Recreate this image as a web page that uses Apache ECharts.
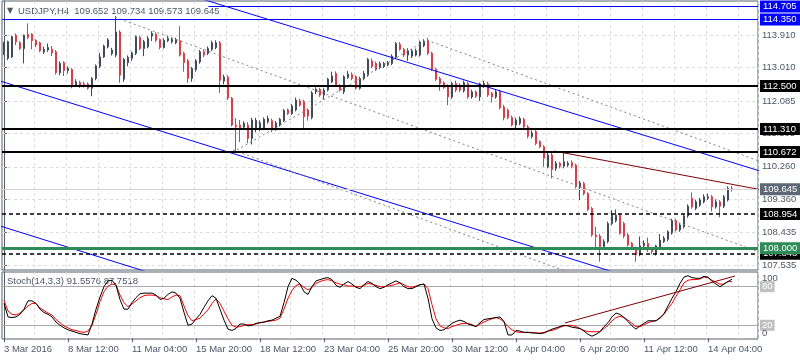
<!DOCTYPE html>
<html><head><meta charset="utf-8">
<script src="https://cdn.jsdelivr.net/npm/echarts@6/dist/echarts.min.js"></script>
<style>html,body{margin:0;padding:0;background:#fff}#c{width:800px;height:360px}</style>
</head><body><div id="c"></div>
<script>
// ---------- data ----------
const tickLabels = ['3 Mar 2016','8 Mar 12:00','11 Mar 04:00','15 Mar 20:00','18 Mar 12:00','23 Mar 04:00','25 Mar 20:00','30 Mar 12:00','4 Apr 04:00','6 Apr 20:00','11 Apr 12:00','14 Apr 04:00'];
const priceTicks = [113.910,113.010,112.085,111.185,110.260,109.360,108.435,107.535];

const open = [
113.45,113.27,113.31,113.91,113.70,113.54,113.94,113.94,113.77,113.70,
113.45,113.50,113.52,113.45,112.87,113.15,112.93,112.96,112.53,112.60,
112.56,112.56,112.44,112.71,113.05,113.31,113.59,113.40,113.36,114.00,
112.69,113.15,113.27,113.41,113.85,113.54,113.59,113.89,113.94,113.79,
113.57,113.76,113.73,113.70,113.76,113.41,113.20,112.71,112.96,113.17,
113.45,113.41,113.52,113.57,113.70,112.64,112.75,112.16,111.42,111.42,
111.36,111.42,111.05,111.30,111.30,111.33,111.51,111.54,111.30,111.42,
111.54,111.84,111.74,111.84,112.09,112.07,111.84,111.63,112.34,112.41,
112.25,112.39,112.62,112.85,112.50,112.34,112.74,112.82,112.76,112.44,
112.71,112.80,113.20,113.13,113.02,113.04,113.09,113.13,113.30,113.66,
113.52,113.36,113.33,113.36,113.36,113.62,113.77,113.41,112.96,112.71,
112.59,112.50,112.20,112.57,112.53,112.37,112.57,112.20,112.34,112.20,
112.50,112.56,112.30,112.20,112.34,111.92,111.83,111.63,111.42,111.47,
111.58,111.37,111.10,111.24,110.96,110.82,110.26,110.59,110.22,110.36,
110.28,110.31,110.38,110.31,109.70,109.80,109.52,109.11,108.37,108.34,
108.05,108.19,108.69,108.77,108.92,108.69,108.37,108.14,108.00,107.82,
108.07,108.14,108.00,107.86,108.00,108.19,108.25,108.43,108.77,108.51,
108.60,108.90,109.39,109.11,109.20,109.29,109.39,109.43,109.15,109.29,
109.17,109.34,109.652];
const high = [
113.73,113.76,113.90,113.96,113.75,113.93,114.24,113.97,113.80,113.73,
113.59,113.68,113.61,113.50,113.18,113.19,113.05,113.00,112.69,112.65,
112.62,112.60,112.75,113.10,113.42,113.65,113.83,113.56,114.44,114.05,
113.28,113.35,113.46,113.90,113.90,113.78,113.88,114.02,113.99,113.82,
113.82,113.90,113.85,113.84,114.16,113.45,113.25,113.03,113.25,113.50,
113.52,113.60,113.76,113.77,113.75,112.82,112.80,112.20,111.61,111.56,
111.52,111.50,111.62,111.62,111.55,111.63,111.68,111.60,111.53,111.62,
111.87,111.88,112.00,112.18,112.15,112.12,111.88,112.36,112.47,112.45,
112.44,112.73,112.90,112.91,112.55,112.80,112.92,112.88,112.80,112.76,
112.92,113.28,113.26,113.18,113.18,113.17,113.20,113.38,113.72,113.72,
113.56,113.55,113.52,113.54,113.76,113.80,113.84,113.45,113.00,112.76,
112.63,112.55,112.62,112.65,112.58,112.65,112.62,112.40,112.38,112.60,
112.65,112.62,112.34,112.40,112.40,111.98,111.88,111.68,111.62,111.66,
111.62,111.42,111.27,111.30,111.00,110.86,110.65,110.65,110.42,110.40,
110.68,110.42,110.44,110.35,109.87,109.85,109.56,109.15,108.60,108.40,
108.25,108.74,109.06,109.08,108.96,108.74,108.42,108.18,108.05,108.33,
108.22,108.30,108.04,108.10,108.40,108.34,108.50,108.82,108.82,108.70,
108.95,109.22,109.55,109.35,109.40,109.50,109.52,109.48,109.36,109.34,
109.48,109.72,109.734];
const low = [
113.36,113.22,113.28,113.64,113.50,113.13,113.80,113.52,113.58,113.44,
113.39,113.45,113.33,112.82,112.80,112.78,112.85,112.44,112.48,112.45,
112.46,112.40,112.22,112.66,113.00,113.28,113.55,113.35,113.30,112.59,
112.62,113.05,113.20,113.36,113.50,113.33,113.55,113.75,113.72,113.52,
113.54,113.72,113.68,113.66,113.32,112.90,112.59,112.62,112.90,113.12,
113.30,113.36,113.47,113.52,112.31,112.55,112.12,111.38,110.68,110.95,
111.30,110.92,110.88,111.22,111.25,111.28,111.46,111.22,111.26,111.38,
111.50,111.70,111.70,111.80,111.93,111.34,111.54,111.58,112.28,112.20,
112.13,112.35,112.58,112.48,112.35,112.28,112.70,112.66,112.40,112.40,
112.66,112.76,113.00,112.92,112.97,113.00,113.05,113.08,113.25,113.48,
113.30,113.20,113.28,113.32,113.32,113.58,113.36,112.92,112.64,112.37,
112.42,111.97,112.15,112.33,112.33,112.32,112.15,112.15,112.17,112.09,
112.45,112.20,112.04,112.15,111.85,111.55,111.58,111.38,111.33,111.42,
111.33,111.05,111.05,110.86,110.78,110.26,110.22,109.94,110.15,110.22,
110.22,110.26,110.22,109.66,109.34,109.47,109.03,108.32,108.00,107.63,
108.00,108.14,108.64,108.72,108.38,108.28,108.05,107.95,107.63,107.78,
108.02,107.90,107.84,107.80,107.96,108.15,108.20,108.38,108.47,108.46,
108.55,108.85,109.10,109.06,109.15,109.25,109.34,109.02,109.10,108.86,
109.12,109.30,109.573];
const close = [
113.70,113.73,113.87,113.73,113.54,113.91,113.85,113.76,113.64,113.48,
113.52,113.57,113.42,112.87,113.13,112.93,112.99,112.53,112.62,112.50,
112.50,112.44,112.71,113.06,113.31,113.61,113.78,113.50,114.00,112.80,
113.24,113.30,113.42,113.87,113.54,113.73,113.82,113.96,113.77,113.57,
113.77,113.82,113.79,113.79,113.36,113.15,112.71,112.99,113.20,113.45,
113.36,113.54,113.70,113.70,112.66,112.75,112.17,111.42,111.37,111.33,
111.47,111.05,111.56,111.55,111.48,111.58,111.60,111.28,111.48,111.58,
111.82,111.74,111.95,112.11,111.97,111.65,111.67,112.31,112.41,112.25,
112.39,112.69,112.78,112.53,112.39,112.76,112.83,112.71,112.44,112.71,
112.85,113.24,113.04,112.96,113.13,113.13,113.15,113.33,113.68,113.52,
113.36,113.48,113.48,113.48,113.72,113.75,113.41,112.96,112.69,112.57,
112.46,112.20,112.57,112.39,112.39,112.59,112.20,112.34,112.22,112.56,
112.57,112.25,112.20,112.34,111.90,111.62,111.63,111.42,111.56,111.60,
111.37,111.11,111.20,110.91,110.82,110.50,110.59,110.19,110.36,110.28,
110.40,110.36,110.28,109.71,109.81,109.52,109.08,108.37,108.32,108.05,
108.19,108.69,108.92,108.92,108.42,108.34,108.09,108.00,107.82,108.07,
108.14,107.97,107.91,108.07,108.23,108.28,108.46,108.77,108.51,108.65,
108.90,109.17,109.15,109.29,109.34,109.43,109.43,109.15,109.29,109.17,
109.43,109.66,109.645];

const stochK = [
54,33,32,33,37,45,58,58,54,45, 40,37,33,25,20,16,13,11,9,7,
6,5,22,45,64,80,89,90,82,60, 45,45,55,63,69,70,70,70,67,60,
62,68,72,70,62,40,20,22,30,37, 48,58,66,62,45,28,14,12,15,22,
22,19,20,23,24,25,27,28,31,34, 55,80,93,90,84,72,68,80,89,91,
93,94,91,82,79,84,88,84,79,77, 83,88,85,80,77,79,83,86,89,86,
80,77,77,80,83,84,62,30,16,12, 13,18,23,26,28,26,22,20,18,24,
29,30,31,32,33,26,5,5,12,11, 9,9,8,8,7,8,11,14,16,18,
20,19,17,16,15,11,6,3,6,10, 18,24,33,39,37,32,26,19,14,19,
23,27,27,27,32,38,50,62,72,85, 95,97,94,93,93,96,95,88,84,80,
84,88,91.56];
const stochD = [
59,42,37,36,39,44,50,54,54,47, 43,39,36,29,24,19,16,13,12,10,
9,11,20,37,57,72,81,84,83,67, 55,49,53,58,63,66,67,67,66,63,
61,60,64,67,66,50,35,27,29,31, 38,44,54,61,54,42,30,20,17,18,
20,21,21,22,24,25,26,27,28,31, 45,62,74,82,84,79,75,79,85,88,
90,91,89,86,84,83,81,81,80,80, 82,85,84,82,80,80,81,82,84,86,
83,80,79,81,83,84,77,52,30,19, 16,15,18,20,22,23,23,21,18,22,
25,28,30,32,30,25,18,13,10,9, 9,9,9,8,8,9,11,12,14,17,
19,20,20,18,15,12,10,10,10,10, 15,20,27,32,34,32,28,23,18,18,
21,24,26,27,31,37,46,54,65,75, 86,90,91,91,92,95,94,90,87,84,
84,88,87.75];
const stochLevels = [80, 20];
const stochTop = [100];
const stochBottom = [0];

// horizontal price objects
const blueLevels = [114.705, 114.350];
const boldLevels = [112.500, 111.310, 110.672];
const dashedLevels = [108.954, 107.848];
const greenLevels = [108.000];
const bidPrice = 109.645;

// trend lines: [barIndex, price]
const blueUpper = [[40, 115.24], [195, 109.94]];
const blueLower = [[-5, 112.78], [160, 107.08]];
const blueLowest = [[-5, 108.76], [40, 107.20]];
const grayMid = [[27.75, 114.41], [190, 107.85]];
const grayUpper = [[105.75, 113.776], [190, 110.37]];
const grayLower = [[57.25, 110.727], [190, 105.36]];
const grayRise = [[58.25, 110.727], [105.75, 113.776]];
const maroonLine = [[137.5, 110.70], [190, 109.61]];
const stochTrend = [[140.25, 23.6], [182.75, 96.6]];

// ---------- chart ----------
const NB = 189;
const categories = [];
for (let t = Date.UTC(2016, 2, 3, 20); categories.length < NB; t += 4 * 3600e3) {
  const d = new Date(t), wd = d.getUTCDay();
  if (wd === 0 || wd === 6) continue;
  categories.push(d.toISOString().slice(0, 16));
}
const FONT = 'Liberation Sans';
const TXT = '#4b5766';
const AX = '#56606c';
const GRID = '#dcdcdc';
const FS = 9.5;
const BULL = '#3f4a5a', BEAR = '#f5333f';

const candles = open.map((o, i) => [o, close[i], low[i], high[i]]);

function lvl(v, color, width, type, bg) {
  return {
    yAxis: v,
    lineStyle: { color: color, width: width, type: type },
    label: { show: true, position: 'end', distance: 2, formatter: v.toFixed(3),
      color: '#fff', backgroundColor: bg, padding: [1, 4, 0, 3], fontSize: FS, fontFamily: FONT, lineHeight: 11 }
  };
}
const levelData = [
  lvl(bidPrice, '#d4d4d4', 1, 'solid', '#5e6875'),
  ...boldLevels.map(v => lvl(v, '#000', 2, 'solid', '#000')),
  ...dashedLevels.map(v => lvl(v, '#000', 1.5, [4, 3], '#000')),
  ...greenLevels.map(v => lvl(v, '#2e8b57', 3, 'solid', '#2e8b57')),
  lvl(blueLevels[1], '#0000ff', 1, 'solid', '#0000ff')
];
const topBlue = blueLevels[0];
levelData.push([
  { coord: [blueUpper[0][0] + (blueUpper[0][1] - 114.86) / 0.0342, topBlue], lineStyle: { color: '#0000ff', width: 1, type: 'solid' },
    label: { show: true, position: 'end', distance: 2, formatter: topBlue.toFixed(3), color: '#fff', backgroundColor: '#0000ff', padding: [1, 4, 0, 3], fontSize: FS, fontFamily: FONT, lineHeight: 11 } },
  { coord: [188.5, topBlue] }
]);

function tl(data, color, type, xi, yi, extra) {
  return Object.assign({
    type: 'line', xAxisIndex: xi, yAxisIndex: yi, data: data, symbol: 'none', showSymbol: false,
    silent: true, z: 3, clip: true,
    lineStyle: { color: color, width: 1, type: type }
  }, extra || {});
}

const stochMarks = stochLevels.map(v => ({ yAxis: v })).concat(stochBottom.map(v => ({
  yAxis: v, lineStyle: { color: 'rgba(0,0,0,0)', width: 0 },
  label: { show: true, position: 'end', distance: 4, backgroundColor: 'rgba(0,0,0,0)', color: TXT, opacity: 1,
    offset: [0, -5], padding: 0, formatter: String(v), fontSize: FS, fontFamily: FONT }
})));

const option = {
  animation: false,
  backgroundColor: '#ffffff',
  textStyle: { fontFamily: FONT },
  grid: [
    { left: 2, top: 1, width: 756, height: 269, show: true, borderColor: AX, borderWidth: 1 },
    { left: 2, top: 272, width: 756, height: 67, show: true, borderColor: AX, borderWidth: 1 }
  ],
  xAxis: [
    { type: 'category', gridIndex: 0, data: categories, boundaryGap: true,
      axisLine: { show: false }, axisTick: { show: false }, axisLabel: { show: false },
      splitLine: { show: true, interval: (i) => i > 0 && i % 8 === 0, lineStyle: { color: GRID, type: [3, 3] } } },
    { type: 'category', gridIndex: 1, data: categories, boundaryGap: true,
      axisLine: { show: false },
      axisTick: { show: true, interval: (i) => i % 16 === 0, alignWithLabel: true, length: 4, lineStyle: { color: AX } },
      axisLabel: { show: true, interval: (i) => i % 16 === 0, formatter: (v, i) => tickLabels[i / 16] || '',
        align: 'left', color: TXT, fontSize: FS, fontFamily: FONT, margin: 5 },
      splitLine: { show: true, interval: (i) => i > 0 && i % 8 === 0, lineStyle: { color: GRID, type: [3, 3] } } },
    { type: 'value', gridIndex: 0, min: -0.5, max: 188.5, show: false },
    { type: 'value', gridIndex: 1, min: -0.5, max: 188.5, show: false }
  ],
  yAxis: [
    { type: 'value', gridIndex: 0, position: 'right', min: 107.40, max: 114.86,
      axisLine: { show: true, lineStyle: { color: AX } },
      axisTick: { show: true, customValues: priceTicks, length: 3, lineStyle: { color: AX } },
      axisLabel: { show: true, customValues: priceTicks, formatter: (v) => v.toFixed(3), color: TXT, fontSize: FS, fontFamily: FONT, margin: 4 },
      splitLine: { show: false } },
    { type: 'value', gridIndex: 1, position: 'right', min: -1.3, max: 102.8,
      axisTick: { show: false }, splitLine: { show: false },
      axisLine: { show: true, lineStyle: { color: AX } },
      axisLabel: { show: true, customValues: stochTop, showMaxLabel: true, formatter: (v) => String(v),
        color: TXT, fontSize: FS, fontFamily: FONT, margin: 4, verticalAlign: 'top' } }
  ],
  series: [
    { type: 'candlestick', xAxisIndex: 0, yAxisIndex: 0, data: candles, barWidth: 2, z: 2, silent: true,
      itemStyle: { color: BULL, color0: BEAR, borderColor: BULL, borderColor0: BEAR, borderWidth: 1 },
      markLine: { silent: true, symbol: 'none', z: 1, animation: false, label: { show: false },
        lineStyle: { color: GRID, type: [3, 3], width: 1 },
        data: priceTicks.map(v => ({ yAxis: v })) } },
    tl(blueUpper, '#0000ff', 'solid', 2, 0, {
      markLine: { silent: true, symbol: 'none', z: 6, animation: false, data: levelData } }),
    tl(blueLower, '#0000ff', 'solid', 2, 0),
    tl(blueLowest, '#0000ff', 'solid', 2, 0),
    tl(grayMid, '#808080', [2, 3], 2, 0),
    tl(grayUpper, '#808080', [2, 3], 2, 0),
    tl(grayLower, '#808080', [2, 3], 2, 0),
    tl(grayRise, '#808080', [2, 3], 2, 0),
    tl(maroonLine, '#800000', 'solid', 2, 0),
    { type: 'line', xAxisIndex: 1, yAxisIndex: 1, data: stochD, symbol: 'none', showSymbol: false, silent: true, z: 3,
      lineStyle: { color: '#ff0000', width: 1 },
      markLine: { silent: true, symbol: 'none', z: 1, animation: false,
        lineStyle: { color: '#a9a9a9', width: 1, type: 'solid' },
        label: { show: true, position: 'end', distance: 2, formatter: (p) => String(p.value), color: '#fff',
          backgroundColor: '#c0c0c0', padding: [1, 2, 0, 2], fontSize: FS, fontFamily: FONT, lineHeight: 10 },
        data: stochMarks } },
    { type: 'line', xAxisIndex: 1, yAxisIndex: 1, data: stochK, symbol: 'none', showSymbol: false, silent: true, z: 4,
      lineStyle: { color: '#000000', width: 1 } },
    tl(stochTrend, '#800000', 'solid', 3, 1, { z: 5 })
  ],
  graphic: [
    { type: 'text', x: 7, y: 11, silent: true, style: { text: '▼', fill: TXT, font: '8px "DejaVu Sans"', verticalAlign: 'middle' } },
    { type: 'text', x: 18, y: 11, silent: true, style: { text: 'USDJPY,H4  109.652 109.734 109.573 109.645', fill: TXT, font: FS + 'px "' + FONT + '"', verticalAlign: 'middle' } },
    { type: 'text', x: 7, y: 281, silent: true, style: { text: 'Stoch(14,3,3) 91.5576 87.7518', fill: TXT, font: FS + 'px "' + FONT + '"', verticalAlign: 'middle' } }
  ]
};
const chart = echarts.init(document.getElementById('c'), null, { renderer: 'canvas' });
chart.setOption(option);
</script>
</body></html>
